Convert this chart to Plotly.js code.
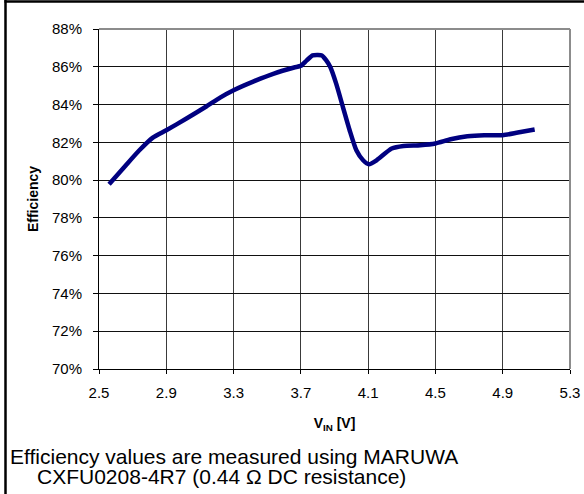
<!DOCTYPE html>
<html>
<head>
<meta charset="utf-8">
<script src="https://cdn.plot.ly/plotly-3.0.1.min.js"></script>
<style>
  html, body { margin: 0; padding: 0; background: #fff; }
  #chart { width: 584px; height: 494px; }
</style>
</head>
<body>
<div id="chart"></div>
<script>
// Input voltage (V)
var vin = [2.56, 2.66, 2.74, 2.82, 2.90, 3.02, 3.14, 3.22, 3.30, 3.42, 3.54, 3.66, 3.70, 3.735, 3.77, 3.80, 3.825, 3.85, 3.875, 3.91, 3.95, 3.99, 4.03, 4.07, 4.105, 4.15, 4.24, 4.31, 4.41, 4.50, 4.59, 4.69, 4.79, 4.90, 4.99, 5.09];
// Efficiency (%)
var efficiency = [79.78, 80.79, 81.58, 82.25, 82.64, 83.26, 83.91, 84.37, 84.76, 85.23, 85.64, 85.96, 86.05, 86.34, 86.6, 86.62, 86.6, 86.35, 85.99, 85.11, 83.87, 82.64, 81.58, 81.05, 80.84, 81.05, 81.67, 81.81, 81.85, 81.94, 82.16, 82.32, 82.38, 82.38, 82.52, 82.68];
// Tick labels
var xTicks = [2.5, 2.9, 3.3, 3.7, 4.1, 4.5, 4.9, 5.3];
var xTickText = ["2.5", "2.9", "3.3", "3.7", "4.1", "4.5", "4.9", "5.3"];
var yTicks = [70, 72, 74, 76, 78, 80, 82, 84, 86, 88];
var yTickText = ["70%", "72%", "74%", "76%", "78%", "80%", "82%", "84%", "86%", "88%"];
var noteLine1 = "Efficiency values are measured using MARUWA";
var noteLine2 = "CXFU0208-4R7 (0.44 \u03A9 DC resistance)";

var FONT = "Liberation Sans, Arial, sans-serif";
var L = 99, R = 14, T = 29, B = 125, W = 584, H = 494;
var pw = W - L - R, ph = H - T - B;
function px2paperX(px) { return (px - L) / pw; }
function px2paperY(py) { return (H - B - py) / ph; }

var trace = {
  x: vin, y: efficiency, type: "scatter", mode: "lines",
  line: { color: "#000080", width: 4.5, shape: "spline", smoothing: 0.6 },
  hoverinfo: "skip"
};

var layout = {
  width: W, height: H,
  margin: { l: L, r: R, t: T, b: B },
  paper_bgcolor: "#fff", plot_bgcolor: "#fff",
  showlegend: false,
  font: { family: FONT, color: "#000", size: 15 },
  xaxis: {
    range: [2.5, 5.3], tickvals: xTicks, ticktext: xTickText,
    showgrid: true, gridcolor: "#3a3a3a", gridwidth: 1,
    showline: true, linecolor: "#000", linewidth: 1,
    ticks: "outside", ticklen: 4, tickcolor: "#000",
    ticklabelstandoff: 6,
    zeroline: false, fixedrange: true,
    tickfont: { family: FONT, size: 15, color: "#000" },
    title: { text: "<b>V<sub>IN</sub> [V]</b>", font: { family: FONT, size: 14, color: "#000" }, standoff: 18 }
  },
  yaxis: {
    range: [70, 88], tickvals: yTicks, ticktext: yTickText,
    showgrid: true, gridcolor: "#111", gridwidth: 1,
    showline: true, linecolor: "#000", linewidth: 1,
    ticks: "outside", ticklen: 5, tickcolor: "#000",
    ticklabelstandoff: 8,
    zeroline: false, fixedrange: true,
    tickfont: { family: FONT, size: 15, color: "#000" },
    title: { text: "<b>Efficiency</b>", font: { family: FONT, size: 14, color: "#000" }, standoff: 10 }
  },
  shapes: [
    { type: "line", xref: "paper", yref: "paper", x0: 0, x1: 1, y0: 1, y1: 1, line: { color: "#8c8c8c", width: 2 } },
    { type: "line", xref: "paper", yref: "paper", x0: 1, x1: 1, y0: 0, y1: 1, line: { color: "#8c8c8c", width: 2 } },
    { type: "line", xref: "paper", yref: "paper", x0: px2paperX(5.5), x1: px2paperX(5.5), y0: px2paperY(0), y1: px2paperY(494), line: { color: "#000", width: 2.5 } },
    { type: "line", xref: "paper", yref: "paper", x0: px2paperX(4.5), x1: px2paperX(584), y0: px2paperY(1.5), y1: px2paperY(1.5), line: { color: "#000", width: 2.5 } }
  ],
  annotations: [
    { xref: "paper", yref: "paper", x: px2paperX(8), y: px2paperY(456), xanchor: "left", yanchor: "middle",
      text: noteLine1, showarrow: false, font: { family: FONT, size: 21, color: "#000" } },
    { xref: "paper", yref: "paper", x: px2paperX(35), y: px2paperY(476), xanchor: "left", yanchor: "middle",
      text: noteLine2, showarrow: false, font: { family: FONT, size: 21, color: "#000" } }
  ]
};

Plotly.newPlot("chart", [trace], layout, { displayModeBar: false, staticPlot: true });
</script>
</body>
</html>
